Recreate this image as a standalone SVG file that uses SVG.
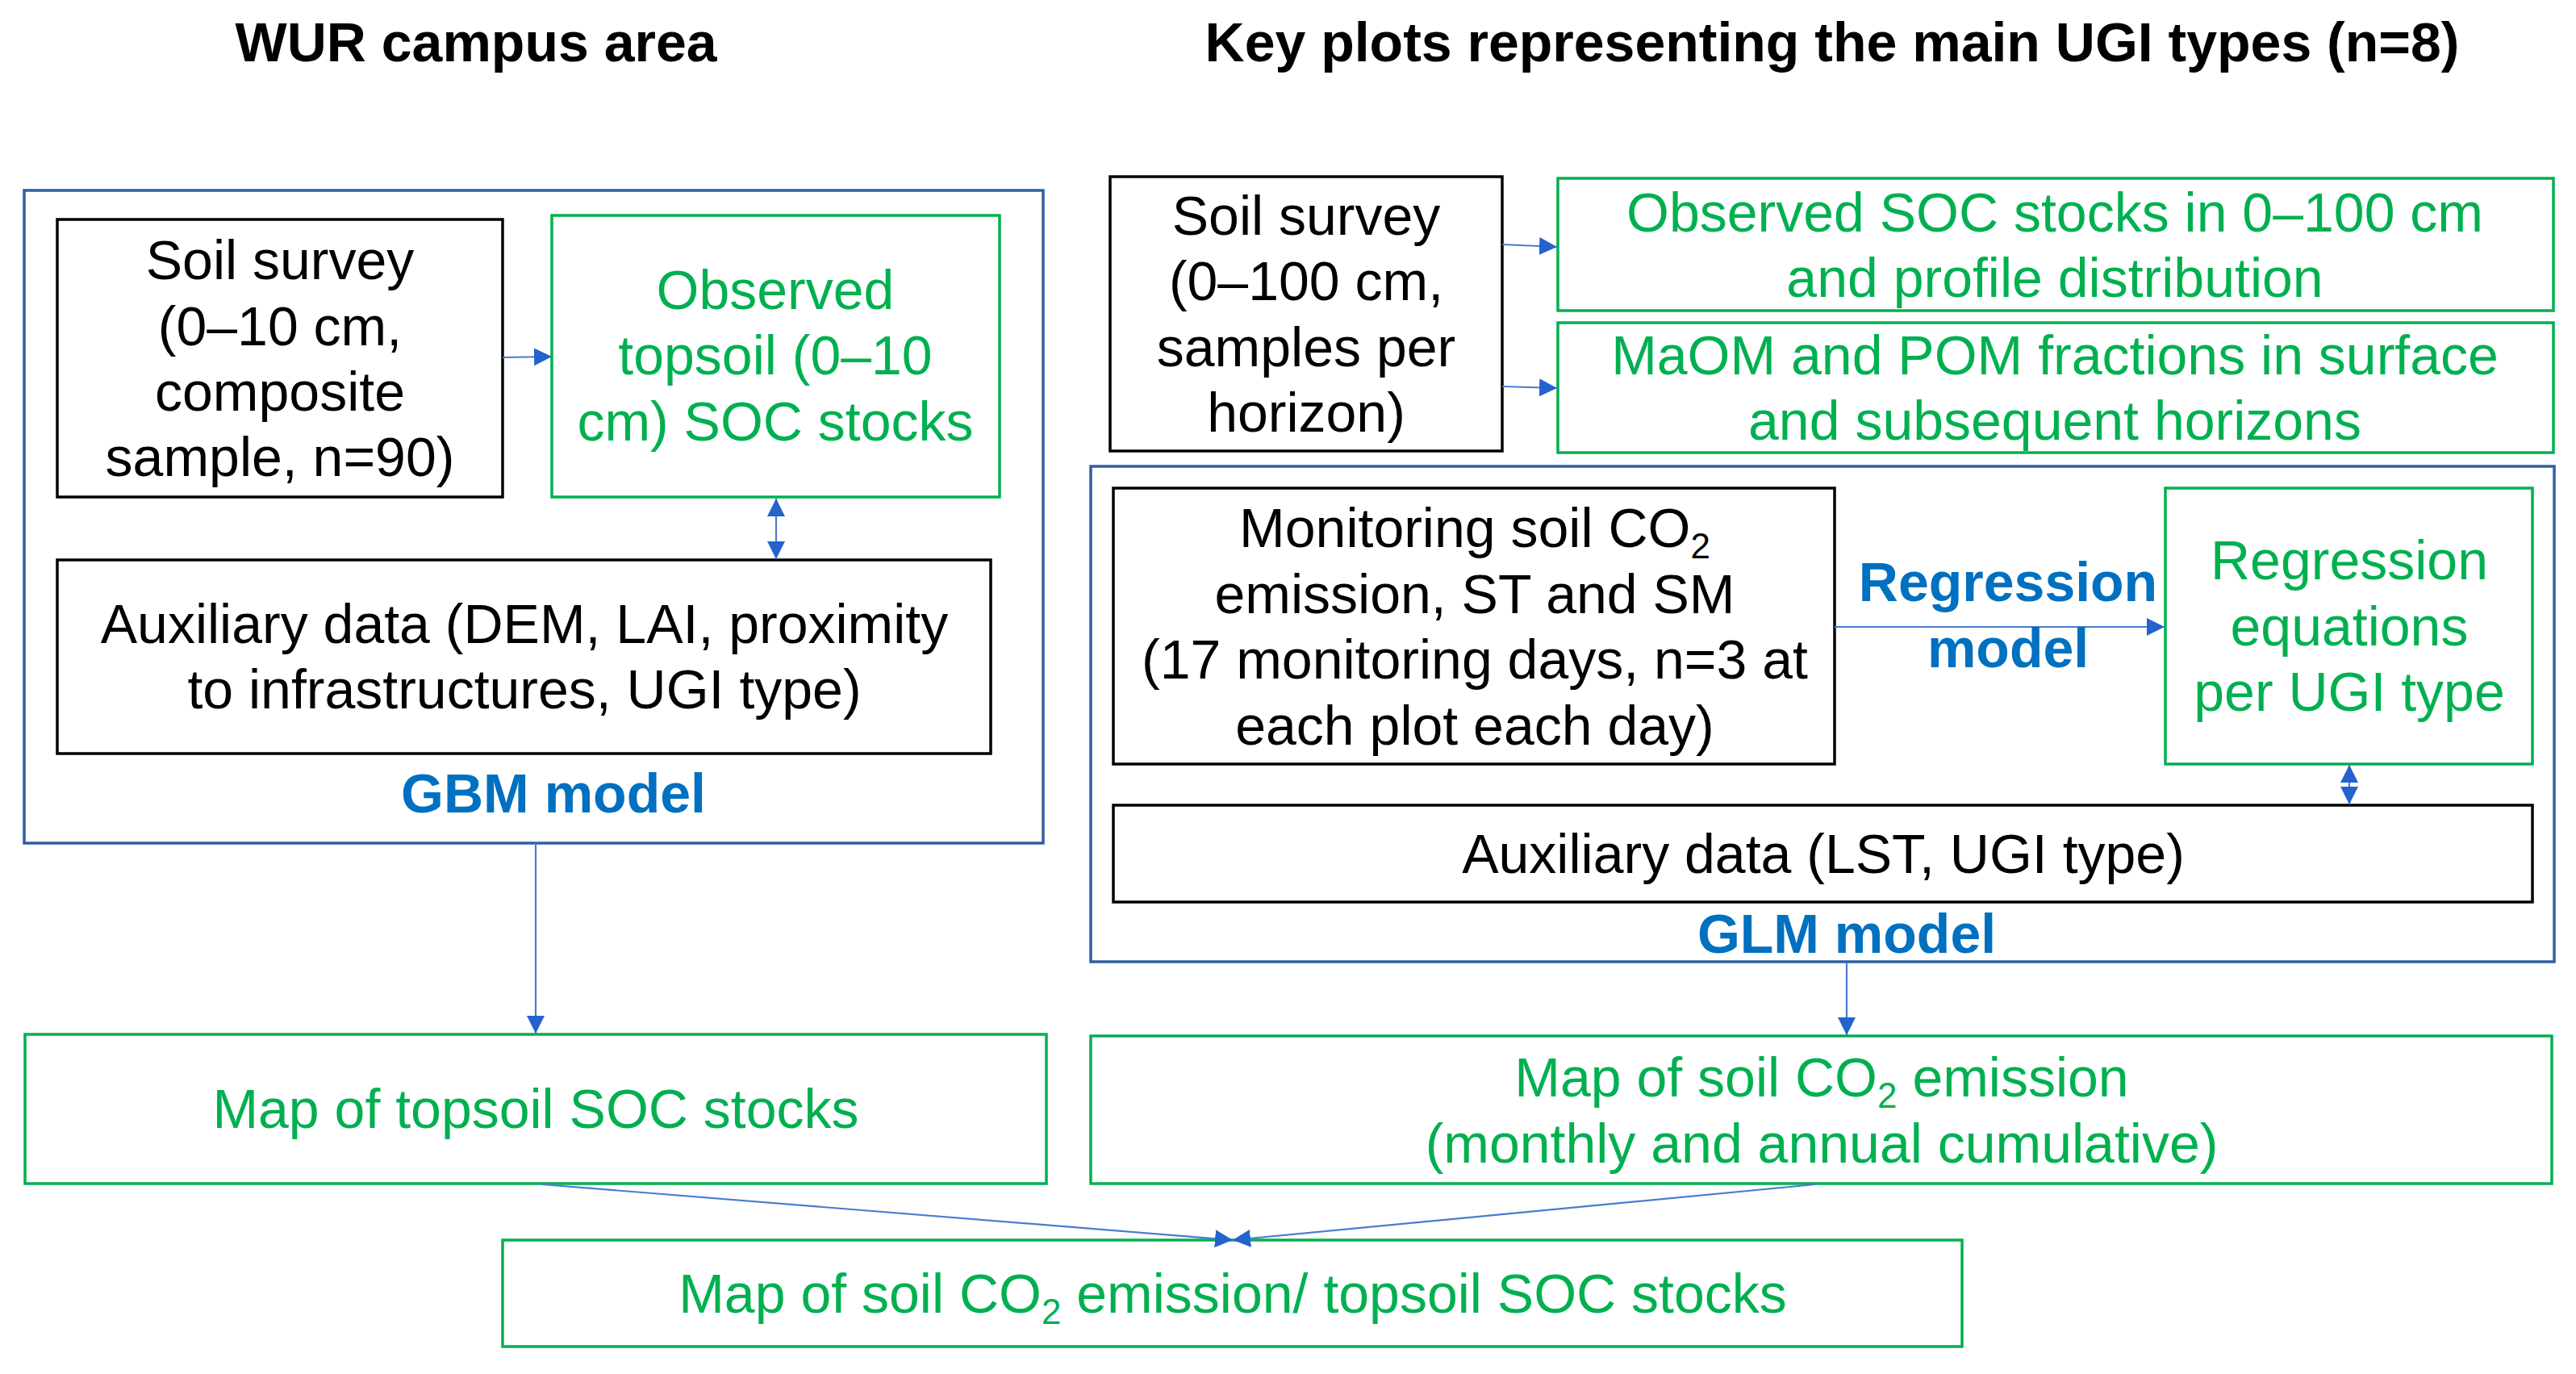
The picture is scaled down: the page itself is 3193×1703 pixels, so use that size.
<svg xmlns="http://www.w3.org/2000/svg" width="3193" height="1703" viewBox="0 0 3193 1703">
<style>
text{font-family:"Liberation Sans",Arial,sans-serif;font-size:68px;text-anchor:middle}
.title{font-weight:bold;fill:#000}
.bk{fill:#000}
.gr{fill:#00B050}
.bl{fill:#0070C0;font-weight:bold}
.boxk{fill:#fff;stroke:#000;stroke-width:3.5}
.boxg{fill:#fff;stroke:#00B050;stroke-width:3.5}
.boxb{fill:none;stroke:#2E5FA3;stroke-width:3.5}
.conn{stroke:#4A7BD0;stroke-width:2.2;fill:none}
.sub{font-size:44px}
</style>
<defs>
<marker id="ah" markerUnits="userSpaceOnUse" markerWidth="22" markerHeight="22" viewBox="0 0 22 22" refX="22" refY="11" orient="auto-start-reverse">
<path d="M0,0 L22,11 L0,22 z" fill="#2463CC"/>
</marker>
</defs>
<rect width="3193" height="1703" fill="#fff"/>

<text class="title" x="590" y="76">WUR campus area</text>
<text class="title" x="2271" y="76">Key plots representing the main UGI types (n=8)</text>

<g id="gbm-model">
<rect class="boxb" x="30" y="236" width="1263" height="809"/>
<text class="bl" x="686" y="1007">GBM model</text>
</g>
<g id="soil-survey-left">
<rect class="boxk" x="71" y="272" width="552" height="344"/>
<text class="bk" x="347"><tspan x="347" y="346">Soil survey</tspan><tspan x="347" y="428">(0–10 cm,</tspan><tspan x="347" y="509">composite</tspan><tspan x="347" y="590">sample, n=90)</tspan></text>
</g>
<g id="observed-topsoil">
<rect class="boxg" x="684" y="267" width="555" height="349"/>
<text class="gr" x="961"><tspan x="961" y="383">Observed</tspan><tspan x="961" y="464">topsoil (0–10</tspan><tspan x="961" y="546">cm) SOC stocks</tspan></text>
</g>
<g id="aux-left">
<rect class="boxk" x="71" y="694" width="1157" height="240"/>
<text class="bk" x="650"><tspan x="650" y="797">Auxiliary data (DEM, LAI, proximity</tspan><tspan x="650" y="878">to infrastructures, UGI type)</tspan></text>
</g>

<g id="soil-survey-right">
<rect class="boxk" x="1376" y="219" width="486" height="340"/>
<text class="bk" x="1619"><tspan x="1619" y="291">Soil survey</tspan><tspan x="1619" y="372">(0–100 cm,</tspan><tspan x="1619" y="454">samples per</tspan><tspan x="1619" y="535">horizon)</tspan></text>
</g>
<g id="observed-soc">
<rect class="boxg" x="1931" y="221" width="1234" height="164"/>
<text class="gr" x="2547"><tspan x="2547" y="287">Observed SOC stocks in 0–100 cm</tspan><tspan x="2547" y="368">and profile distribution</tspan></text>
</g>
<g id="maom-pom">
<rect class="boxg" x="1931" y="400" width="1234" height="161"/>
<text class="gr" x="2547"><tspan x="2547" y="464">MaOM and POM fractions in surface</tspan><tspan x="2547" y="545">and subsequent horizons</tspan></text>
</g>

<g id="glm-model">
<rect class="boxb" x="1352" y="578" width="1814" height="614"/>
<text class="bl" x="2289" y="1181">GLM model</text>
</g>
<g id="monitoring">
<rect class="boxk" x="1380" y="605" width="894" height="342"/>
<text class="bk" x="1828"><tspan x="1828" y="678">Monitoring soil CO<tspan class="sub" dy="14">2</tspan></tspan><tspan x="1828" y="760">emission, ST and SM</tspan><tspan x="1828" y="841">(17 monitoring days, n=3 at</tspan><tspan x="1828" y="923">each plot each day)</tspan></text>
</g>
<g id="regression-equations">
<rect class="boxg" x="2684" y="605" width="455" height="342"/>
<text class="gr" x="2912"><tspan x="2912" y="718">Regression</tspan><tspan x="2912" y="800">equations</tspan><tspan x="2912" y="881">per UGI type</tspan></text>
</g>
<g id="aux-right">
<rect class="boxk" x="1380" y="998" width="1759" height="120"/>
<text class="bk" x="2260" y="1082">Auxiliary data (LST, UGI type)</text>
</g>

<g id="map-soc">
<rect class="boxg" x="31" y="1282" width="1266" height="185"/>
<text class="gr" x="664" y="1398">Map of topsoil SOC stocks</text>
</g>
<g id="map-co2">
<rect class="boxg" x="1352" y="1284" width="1811" height="183"/>
<text class="gr" x="2258"><tspan x="2258" y="1359">Map of soil CO<tspan class="sub" dy="14">2</tspan><tspan dy="-14"> emission</tspan></tspan><tspan x="2258" y="1441">(monthly and annual cumulative)</tspan></text>
</g>
<g id="map-ratio">
<rect class="boxg" x="623" y="1537" width="1809" height="132"/>
<text class="gr" x="1528" y="1627">Map of soil CO<tspan class="sub" dy="14">2</tspan><tspan dy="-14"> emission/ topsoil SOC stocks</tspan></text>
</g>

<g id="connectors">
<line class="conn" x1="623" y1="443" x2="684" y2="442" marker-end="url(#ah)"/>
<line class="conn" x1="962" y1="618" x2="962" y2="693" marker-start="url(#ah)" marker-end="url(#ah)"/>
<line class="conn" x1="664" y1="1045" x2="664" y2="1281" marker-end="url(#ah)"/>
<line class="conn" x1="1862" y1="303" x2="1930" y2="306" marker-end="url(#ah)"/>
<line class="conn" x1="1862" y1="479" x2="1930" y2="481" marker-end="url(#ah)"/>
<line class="conn" x1="2274" y1="777" x2="2683" y2="777" marker-end="url(#ah)"/>
<line class="conn" x1="2912" y1="948" x2="2912" y2="997" marker-start="url(#ah)" marker-end="url(#ah)"/>
<line class="conn" x1="2289" y1="1193" x2="2289" y2="1283" marker-end="url(#ah)"/>
<line class="conn" x1="672" y1="1468" x2="1528" y2="1537" marker-end="url(#ah)"/>
<line class="conn" x1="2250" y1="1468" x2="1528" y2="1537" marker-end="url(#ah)"/>
</g>
<text class="bl" x="2489" y="745">Regression</text>
<text class="bl" x="2489" y="827">model</text>
</svg>
